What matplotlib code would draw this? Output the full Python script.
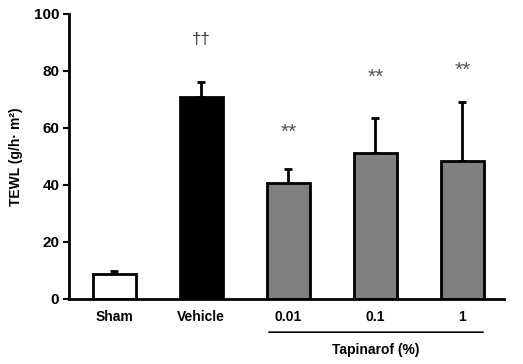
import matplotlib
matplotlib.use('Agg')
import matplotlib.pyplot as plt

groups = ['Sham', 'Vehicle', '0.01', '0.1', '1']
tewl = [8.8, 70.8, 40.8, 51.0, 48.5]
sd = [1.0, 5.3, 4.7, 12.4, 20.4]
colors = ['white', 'black', '#808080', '#808080', '#808080']
marks = ['', '\u2020\u2020', '**', '**', '**']
mark_y = [0, 90.9, 58.5, 77.8, 80.3]

plt.rcParams['font.family'] = ['Liberation Sans', 'DejaVu Sans']
plt.rcParams['font.weight'] = 'bold'

fig = plt.figure(figsize=(5.23, 3.64), dpi=100)
ax = fig.add_axes([0.132, 0.179, 0.832, 0.783])

x = range(len(groups))
ax.bar(x, tewl, width=0.5, color=colors, edgecolor='black', linewidth=2, zorder=2)
ax.errorbar(x, tewl, yerr=[[0] * len(sd), sd], fmt='none', ecolor='black',
            elinewidth=2, capsize=3, capthick=2, zorder=1)

for i in x:
    if marks[i]:
        if marks[i] == '**':
            ax.text(i, mark_y[i], marks[i], ha='center', va='center',
                    fontsize=15, color='#555555', fontweight='normal')
        else:
            ax.text(i, mark_y[i], marks[i], ha='center', va='center',
                    fontsize=12, color='#333333', fontweight='normal')

ax.set_xlim(-0.52, 4.48)
ax.set_ylim(0, 100)
ax.set_yticks([0, 20, 40, 60, 80, 100])
ax.set_xticks(list(x))
ax.set_xticklabels(groups)
ax.tick_params(axis='x', length=0, pad=8, labelsize=10)
ax.tick_params(axis='y', length=4, width=1.5, direction='out', labelsize=11, pad=3)
ax.set_ylabel('TEWL (g/h\u00b7 m\u00b2)', fontsize=10, fontweight='bold', labelpad=8)

for side in ['top', 'right']:
    ax.spines[side].set_visible(False)
ax.spines['left'].set_linewidth(2)
ax.spines['bottom'].set_linewidth(2)

# bracket under the Tapinarof doses
ax.annotate('', xy=(1.745, -0.117), xytext=(4.27, -0.117), xycoords=('data', 'axes fraction'),
            arrowprops=dict(arrowstyle='-', color='black', lw=1.2), annotation_clip=False)
ax.text(3.0, -0.18, 'Tapinarof (%)', transform=ax.get_xaxis_transform(),
        ha='center', va='center', fontsize=10, fontweight='bold')

fig.savefig('out.png', dpi=100)
